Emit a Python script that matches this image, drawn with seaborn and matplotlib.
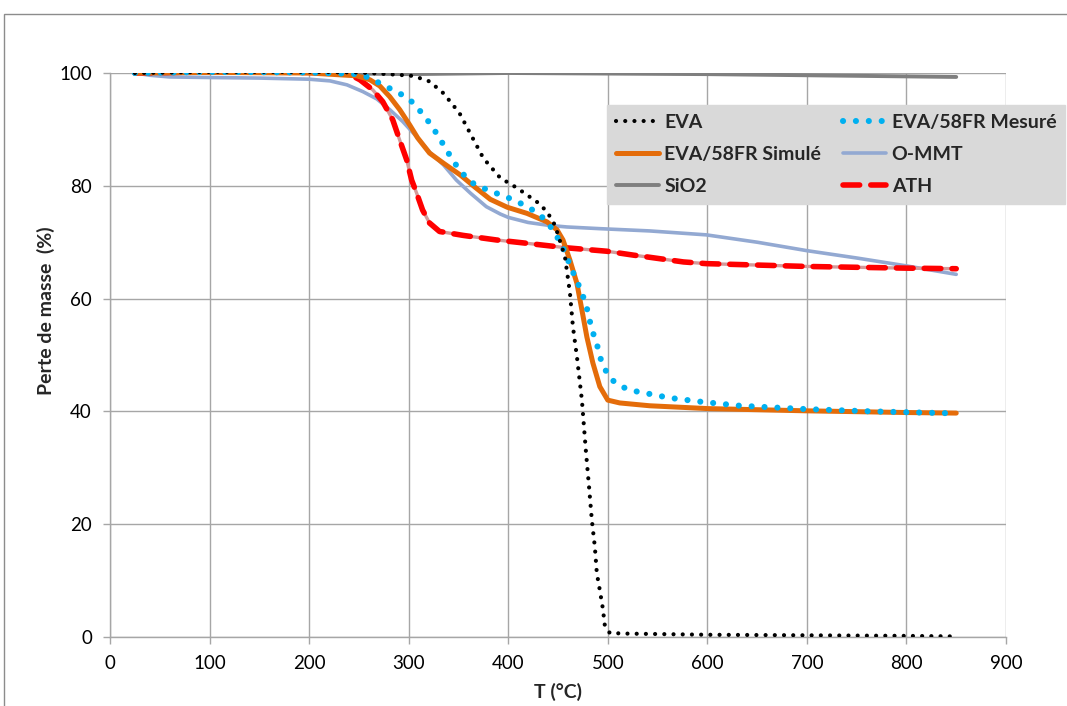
import matplotlib
matplotlib.use("Agg")
import matplotlib.pyplot as plt
from matplotlib.lines import Line2D
from matplotlib.patches import Rectangle
import seaborn as sns

# ---------------- data ----------------
eva_T = [25, 100, 200, 250, 288, 303, 313, 321, 335, 351, 360, 375, 392, 409, 430, 439,
         447, 457, 462, 465, 469, 474, 476, 478, 481, 484, 487, 489, 492, 495, 497, 502,
         520, 600, 700, 800, 850]
eva_Y = [100, 100.2, 100.2, 100.1, 99.7, 99.5, 99.0, 98.5, 96.4, 92.9, 89.9, 84.9, 81.4,
         79.6, 77.0, 75.4, 73.0, 67.4, 61.0, 55.0, 49.7, 42.0, 37.5, 33.0, 27.0, 20.7,
         16.0, 11.3, 8.3, 5.1, 2.1, 0.7, 0.6, 0.4, 0.3, 0.2, 0.1]

mes_T = [25, 100, 200, 250, 261, 273, 284, 296, 306, 314, 323, 330, 337, 344, 352, 362,
         372, 383, 397, 409, 420, 431, 440, 448, 455, 465, 470, 475, 479, 482, 485, 489,
         492, 497, 504, 515, 527, 539, 562, 594, 633, 700, 766, 837, 850]
mes_Y = [100, 100.2, 100.1, 99.8, 99.1, 98.0, 97.0, 95.9, 94.5, 92.7, 90.7, 88.7, 86.7,
         84.6, 82.6, 80.7, 79.8, 79.0, 78.1, 77.2, 76.2, 75.0, 73.4, 71.3, 69.0, 64.7,
         62.7, 60.5, 58.3, 56.0, 54.0, 52.0, 49.7, 47.5, 45.6, 44.3, 43.6, 43.2, 42.4,
         41.7, 41.0, 40.4, 40.0, 39.7, 39.7]

sim_T = [25, 100, 200, 248, 261, 271, 281, 291, 301, 309, 321, 335, 352, 367, 382, 399,
         419, 439, 449, 455, 462, 469, 474, 479, 485, 492, 500, 512, 542, 600, 700, 800, 850]
sim_Y = [100, 100.1, 100, 99.5, 98.8, 97.7, 95.8, 93.5, 90.8, 88.5, 85.8, 84.0, 81.9,
         79.7, 77.6, 76.2, 75.1, 73.6, 72.2, 70.4, 66.8, 62.7, 58.0, 53.2, 48.6, 44.4,
         42.0, 41.5, 41.0, 40.5, 40.1, 39.8, 39.7]

mmt_T = [25, 40, 60, 100, 150, 200, 221, 238, 254, 268, 281, 294, 308, 321, 335, 348, 362,
         378, 392, 400, 420, 440, 459, 492, 542, 599, 650, 700, 750, 800, 850]
mmt_Y = [100, 99.6, 99.3, 99.2, 99.1, 98.9, 98.6, 97.9, 96.7, 95.4, 93.5, 91.4, 88.7,
         86.0, 83.7, 81.0, 78.7, 76.3, 75.0, 74.4, 73.5, 73.0, 72.7, 72.4, 72.0, 71.3,
         70.0, 68.5, 67.2, 65.8, 64.3]

sio_T = [25, 100, 200, 300, 400, 500, 600, 700, 800, 850]
sio_Y = [100, 100, 100, 99.8, 100, 99.9, 99.8, 99.6, 99.4, 99.3]

ath_T = [25, 100, 200, 238, 251, 264, 274, 284, 291, 298, 303, 308, 314, 321, 331, 355,
         388, 419, 459, 499, 526, 539, 576, 599, 700, 800, 850]
ath_Y = [100, 100.2, 100.1, 100, 98.8, 97.0, 94.9, 91.7, 88.1, 84.6, 81.0, 78.7, 75.7,
         73.4, 71.9, 71.2, 70.4, 69.8, 69.0, 68.4, 67.7, 67.4, 66.5, 66.2, 65.7, 65.4, 65.3]

x_ticks = [0, 100, 200, 300, 400, 500, 600, 700, 800, 900]
y_ticks = [0, 20, 40, 60, 80, 100]

# ---------------- style ----------------
sns.set_theme(style="white")
plt.rcParams['font.family'] = ['Lato', 'DejaVu Sans']

W, H = 1067, 706
fig = plt.figure(figsize=(W / 100, H / 100), dpi=100)
ax = fig.add_axes([110 / W, (H - 637) / H, 896 / W, 564 / H])

# outer chart frame (cropped Excel chart)
fig.patches.append(Rectangle((4 / W, -0.2), 2.0, 1 - 14 / H + 0.2, transform=fig.transFigure,
                             fill=False, edgecolor='#8c8c8c', linewidth=1.0, zorder=0))

kw = dict(ax=ax, estimator=None, sort=False, legend=False)

sns.lineplot(x=sio_T, y=sio_Y, color='#7f7f7f', linewidth=2.8, zorder=3, **kw)
sns.lineplot(x=mmt_T, y=mmt_Y, color='#93a9d2', linewidth=2.6, zorder=4, **kw)
sns.lineplot(x=ath_T, y=ath_Y, color='#d49a9a', linewidth=2.4, zorder=5, **kw)
sns.lineplot(x=ath_T, y=ath_Y, color='#ff0000', linewidth=4.0, zorder=6,
             linestyle=(0, (3.0, 2.0)), dash_capstyle='round', **kw)
sns.lineplot(x=sim_T, y=sim_Y, color='#e46c0a', linewidth=3.6, zorder=7, **kw)
sns.lineplot(x=mes_T, y=mes_Y, color='#00b0f0', linewidth=4.4, zorder=8,
             linestyle=(0, (0.01, 2.1)), dash_capstyle='round', **kw)
sns.lineplot(x=eva_T, y=eva_Y, color='#000000', linewidth=3.0, zorder=9,
             linestyle=(0, (0.01, 2.2)), dash_capstyle='round', **kw)

ax.set_xlim(0, 900)
ax.set_ylim(0, 100)
ax.set_xticks(x_ticks)
ax.set_yticks(y_ticks)
ax.set_xticklabels([str(v) for v in x_ticks])
ax.set_yticklabels([str(v) for v in y_ticks])

ax.grid(True, color='#a6a6a6', linewidth=1.0, zorder=0)
ax.set_axisbelow(True)
for s in ['top', 'right']:
    ax.spines[s].set_visible(False)
for s in ['left', 'bottom']:
    ax.spines[s].set_color('#a6a6a6')
    ax.spines[s].set_linewidth(1.0)
ax.tick_params(axis='both', which='both', length=5, width=1, color='#a6a6a6',
               labelsize=13.5, labelcolor='#000000', direction='out', pad=8,
               bottom=True, left=True)

ax.set_xlabel('T (°C)', fontsize=14, fontweight='bold')
ax.set_ylabel('Perte de masse  (%)', fontsize=14, fontweight='bold')
ax.xaxis.set_label_coords(0.5, (637 - 683) / 564)
ax.yaxis.set_label_coords((55 - 110) / 896, (637 - 311) / 564)

# ---------------- legend ----------------
handles = [
    Line2D([], [], color='#000000', linewidth=3.0, linestyle=(0, (0.01, 2.2)), dash_capstyle='round'),
    Line2D([], [], color='#e46c0a', linewidth=3.6),
    Line2D([], [], color='#7f7f7f', linewidth=2.8),
    Line2D([], [], color='#00b0f0', linewidth=4.4, linestyle=(0, (0.01, 2.1)), dash_capstyle='round'),
    Line2D([], [], color='#93a9d2', linewidth=2.6),
    Line2D([], [], color='#ff0000', linewidth=4.0, linestyle=(0, (3.0, 2.0)), dash_capstyle='round'),
]
labels = ['EVA', 'EVA/58FR Simulé', 'SiO2', 'EVA/58FR Mesuré', 'O-MMT', 'ATH']
leg = fig.legend(handles, labels, ncol=2, loc='upper left',
                 bbox_to_anchor=(607 / W, 1 - 207 / H, (1065 - 607) / W, (207 - 105) / H),
                 mode='expand', frameon=True, fancybox=False, facecolor='#d9d9d9',
                 edgecolor='#d9d9d9', framealpha=1.0, borderaxespad=0, handlelength=2.2,
                 handletextpad=0.3, labelspacing=0.78, borderpad=0.45, columnspacing=1.0,
                 prop={'size': 14, 'weight': 'bold'})
leg.set_zorder(20)

fig.savefig('out.png', dpi=100, facecolor='white')
